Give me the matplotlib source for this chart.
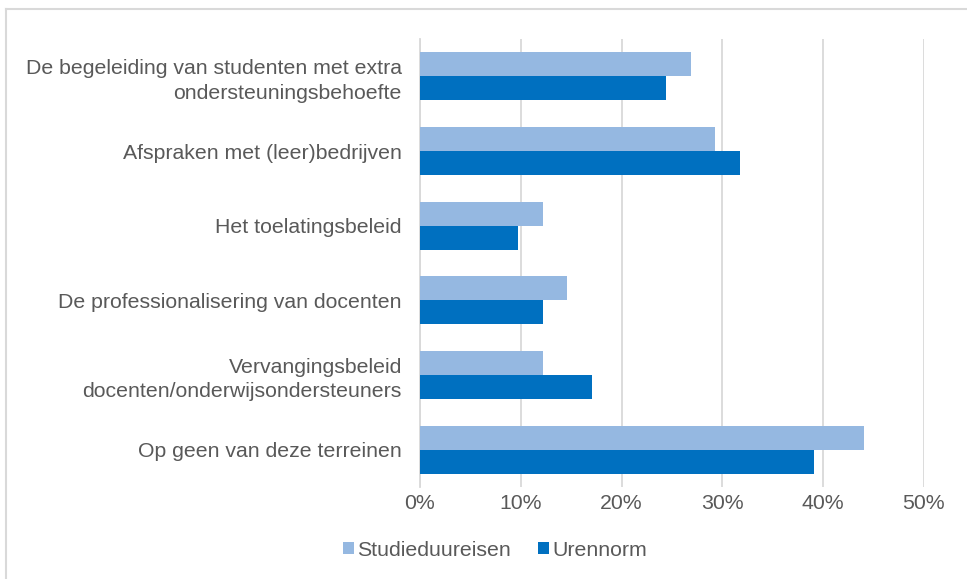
import numpy as np
import matplotlib
matplotlib.use("Agg")
import matplotlib.pyplot as plt
from matplotlib.lines import Line2D
from matplotlib.ticker import PercentFormatter

# === DATA ===
categories = [
    "De begeleiding van studenten met extra\nondersteuningsbehoefte",
    "Afspraken met (leer)bedrijven",
    "Het toelatingsbeleid",
    "De professionalisering van docenten",
    "Vervangingsbeleid\ndocenten/onderwijsondersteuners",
    "Op geen van deze terreinen",
]
studieduur = [26.9, 29.3, 12.2, 14.6, 12.2, 44.1]
urennorm = [24.4, 31.7, 9.7, 12.2, 17.1, 39.1]

light = "#95b8e1"
dark = "#0070c0"
text_col = "#595959"
grid_col = "#d9d9d9"
fs = 15.3

plt.rcParams["font.family"] = ["Liberation Sans", "DejaVu Sans"]

fig = plt.figure(figsize=(9.67, 5.79), dpi=100)
ax = fig.add_axes([0.4343, 0.1589, 0.5212, 0.7737])

y = np.arange(len(categories))
h = 0.32
ax.barh(y - h / 2, studieduur, height=h, color=light, label="Studieduureisen", zorder=3)
ax.barh(y + h / 2, urennorm, height=h, color=dark, label="Urennorm", zorder=3)

ax.set_ylim(len(categories) - 0.5, -0.5)
ax.set_xlim(0, 50)
ax.set_xticks(range(0, 51, 10))
ax.xaxis.set_major_formatter(PercentFormatter(decimals=0))
ax.set_yticks(y)
ax.set_yticklabels(categories, ha="right", multialignment="right", linespacing=1.35)

ax.grid(axis="x", color=grid_col, linewidth=1.3, zorder=0)
for s in ["top", "right", "bottom"]:
    ax.spines[s].set_visible(False)
ax.spines["left"].set_color(grid_col)
ax.spines["left"].set_linewidth(1.3)
ax.tick_params(axis="both", length=0, labelsize=fs, colors=text_col)
ax.tick_params(axis="x", pad=5)
ax.tick_params(axis="y", pad=13)

leg = fig.legend(loc="center", bbox_to_anchor=(0.512, 1 - 550 / 579), ncol=2, frameon=False,
                 fontsize=fs, handlelength=0.5, handleheight=0.5, handletextpad=0.15,
                 columnspacing=1.3, labelcolor=text_col)

# outer chart border (top and left visible)
fig.add_artist(Line2D([0.0067, 1.0], [0.9836, 0.9836], color=grid_col, linewidth=1.5, transform=fig.transFigure))
fig.add_artist(Line2D([0.0067, 0.0067], [0.0, 0.9836], color=grid_col, linewidth=1.5, transform=fig.transFigure))

fig.savefig("out.png", dpi=100)
